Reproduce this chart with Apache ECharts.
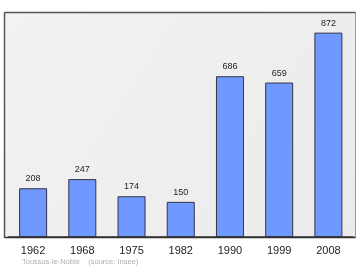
<!DOCTYPE html>
<html><head><meta charset="utf-8">
<script src="https://cdn.jsdelivr.net/npm/echarts@6/dist/echarts.min.js"></script>
<style>html,body{margin:0;padding:0;background:#fff}#c{width:360px;height:270px}</style>
</head><body><div id="c"></div>
<script>
var years = ['1962','1968','1975','1982','1990','1999','2008'];
var population = [208, 247, 174, 150, 686, 659, 872];
var footer = 'Toussus-le-Noble    (source: Insee)';

var chart = echarts.init(document.getElementById('c'), null, {renderer:'canvas'});
chart.setOption({
  animation: false,
  graphic: [
    {type:'rect', z:-10, shape:{x:4.5,y:12.5,width:351,height:225},
     style:{fill:new echarts.graphic.LinearGradient(0,0,1,1,[{offset:0,color:'#f2f2f2'},{offset:1,color:'#ebebeb'}]), stroke:'#999', lineWidth:1}},
    {type:'line', z:-9, shape:{x1:4.5,y1:12.5,x2:355.5,y2:12.5}, style:{stroke:'#555',lineWidth:1.5}},
    {type:'line', z:-9, shape:{x1:4.5,y1:12.5,x2:4.5,y2:237.5}, style:{stroke:'#555',lineWidth:1.5}},
    {type:'line', z:-9, shape:{x1:4.5,y1:237.5,x2:355.5,y2:237.5}, style:{stroke:'#333',lineWidth:1.5}}
  ],
  title: {text: footer, left: 17, top: 253,
    textStyle:{fontSize:7.5, fontWeight:'normal', color:'#b0b0b0', fontFamily:'Liberation Sans'}},
  grid: {left: 8.5, right: 7, top: 12, bottom: 33},
  xAxis: {type:'category', data: years,
    axisLine:{show:true, lineStyle:{color:'#333', width:1.5}},
    axisTick:{show:false},
    axisLabel:{fontSize:11, color:'#222', margin:8, fontFamily:'Liberation Sans'}},
  yAxis: {type:'value', min:0, max:960, show:false, splitLine:{show:false}},
  series: [{type:'bar', data: population, barWidth:28,
    itemStyle:{color:'#7099ff', borderColor:'#334', borderWidth:1},
    label:{show:true, position:'top', distance:5, fontSize:9, color:'#222', fontFamily:'Liberation Sans'}}]
});
</script></body></html>
